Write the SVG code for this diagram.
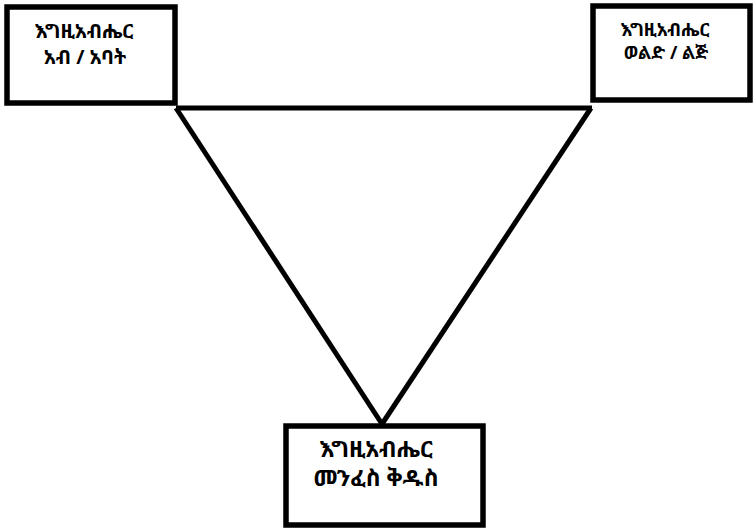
<svg xmlns="http://www.w3.org/2000/svg" width="754" height="530" viewBox="0 0 754 530">
<style>
.box{fill:#fff;stroke:#000;stroke-width:5.5}
.ln{stroke:#000;stroke-width:5;fill:none}
.t{font-family:"Noto Sans Ethiopic","Abyssinica SIL","Noto Sans","DejaVu Sans",sans-serif;font-weight:bold;text-anchor:middle;fill:#000}
</style>
<rect width="754" height="530" fill="#fff"/>
<g id="connectors">
<line class="ln" x1="176" y1="108" x2="592" y2="108"/>
<line class="ln" x1="176" y1="108" x2="382" y2="424"/>
<line class="ln" x1="591" y1="108" x2="382" y2="424"/>
</g>
<g id="node-father">
<rect class="box" x="7" y="7" width="168" height="96"/>
<text class="t" x="84" y="38" font-size="20">እግዚአብሔር</text>
<text class="t" x="85" y="64" font-size="20">አብ / አባት</text>
</g>
<g id="node-son">
<rect class="box" x="593" y="6" width="157" height="94"/>
<text class="t" x="665" y="36" font-size="18">እግዚአብሔር</text>
<text class="t" x="666" y="59" font-size="18">ወልድ / ልጅ</text>
</g>
<g id="node-spirit">
<rect class="box" x="286" y="426" width="197" height="99"/>
<text class="t" x="376" y="457" font-size="23">እግዚአብሔር</text>
<text class="t" x="376" y="486" font-size="23">መንፈስ ቅዱስ</text>
</g>
</svg>
